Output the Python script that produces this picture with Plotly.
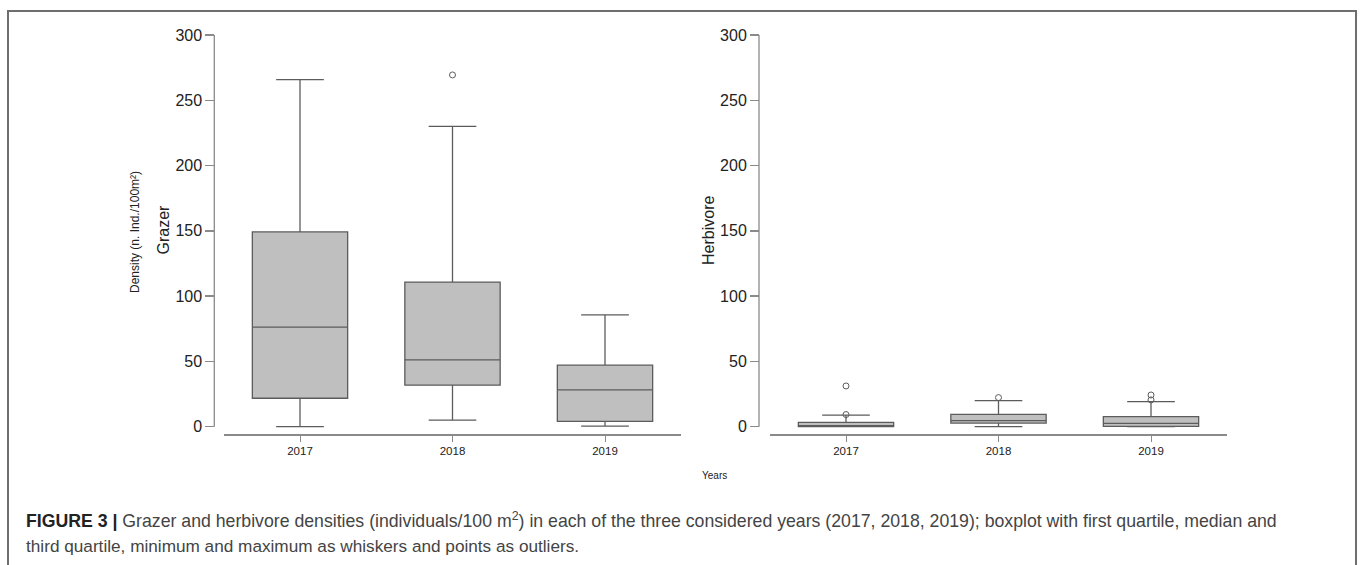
import plotly.graph_objects as go

W, H = 1360, 565

years = ["2017", "2018", "2019"]
pos = [1, 2, 3]

# Grazer boxplot statistics
grazer_low = [0.0, 5.1, 0.5]
grazer_q1 = [21.8, 31.8, 4.1]
grazer_med = [76.3, 51.2, 28.2]
grazer_q3 = [149.2, 110.8, 47.1]
grazer_high = [265.8, 230.0, 85.7]
grazer_out_x = [2]
grazer_out_y = [269.4]

# Herbivore boxplot statistics
herb_low = [0.0, 0.0, 0.0]
herb_q1 = [0.1, 2.8, 0.3]
herb_med = [0.7, 4.6, 2.6]
herb_q3 = [3.3, 9.5, 7.7]
herb_high = [8.8, 20.0, 19.2]
herb_out_x = [1, 1, 2, 3, 3]
herb_out_y = [31.2, 9.3, 22.3, 24.3, 20.5]

yticks = [0, 50, 100, 150, 200, 250, 300]

FONT = "Liberation Sans, Arial, sans-serif"
BOXFILL = "#bfbfbf"
LINE = "#5c5c5c"
AXIS = "#8a8a8a"


def px(x):
    return x / W


def py(y):
    return 1 - y / H


fig = go.Figure()

panels = [
    ("x", "y", grazer_low, grazer_q1, grazer_med, grazer_q3, grazer_high, grazer_out_x, grazer_out_y),
    ("x2", "y2", herb_low, herb_q1, herb_med, herb_q3, herb_high, herb_out_x, herb_out_y),
]
for xa, ya, lo, q1, med, q3, hi, ox, oy in panels:
    fig.add_trace(go.Box(
        x=pos, q1=q1, median=med, q3=q3, lowerfence=lo, upperfence=hi,
        xaxis=xa, yaxis=ya, boxpoints=False, width=0.625, whiskerwidth=0.5,
        fillcolor=BOXFILL, line=dict(color=LINE, width=1.3), showlegend=False,
        hoverinfo="skip",
    ))
    fig.add_trace(go.Scatter(
        x=ox, y=oy, xaxis=xa, yaxis=ya, mode="markers", showlegend=False,
        marker=dict(symbol="circle-open", size=6, color=LINE, line=dict(width=1)),
        hoverinfo="skip",
    ))

ydom = [py(434.3), py(35)]
yrange = [-5.82, 300]

xcommon = dict(
    range=[0.5, 3.5], tickvals=pos, ticktext=years, showline=True, linecolor=AXIS,
    linewidth=1.3, ticks="outside", ticklen=6, tickcolor=AXIS, showgrid=False,
    zeroline=False, tickfont=dict(family=FONT, size=11.5, color="#222"),
    fixedrange=True, automargin=False,
)
ycommon = dict(
    range=yrange, domain=ydom, tickvals=yticks, showline=False, ticks="outside",
    ticklen=9, tickcolor=AXIS, tickwidth=1.3, showgrid=False, zeroline=False,
    tickfont=dict(family=FONT, size=16, color="#222"), anchor="free", automargin=False,
    fixedrange=True,
)

fig.update_layout(
    width=W, height=H, margin=dict(l=0, r=0, t=0, b=0, pad=0), autosize=False,
    paper_bgcolor="white", plot_bgcolor="white",
    xaxis=dict(domain=[px(223.75), px(681.25)], anchor="y", **xcommon),
    xaxis2=dict(domain=[px(769.75), px(1227.25)], anchor="y2", **xcommon),
    yaxis=dict(position=px(214.3), **ycommon),
    yaxis2=dict(position=px(759), **ycommon),
)

shapes = []
# y axis lines spanning 0..300
for xp, yr in [(px(214.3), "y"), (px(759), "y2")]:
    shapes.append(dict(type="line", xref="paper", yref=yr, x0=xp, x1=xp, y0=0, y1=300,
                       line=dict(color=AXIS, width=1.3)))
# frame
shapes.append(dict(type="rect", xref="paper", yref="paper", x0=px(8), x1=px(1356),
                   y0=-0.02, y1=py(11), line=dict(color="#6e6e6e", width=2)))
fig.update_layout(shapes=shapes)

ann = [
    dict(x=px(163.5), y=py(230), text="Grazer", textangle=-90, font=dict(size=16, color="#222")),
    dict(x=px(135), y=py(232), text="Density (n. Ind./100m²)", textangle=-90,
         font=dict(size=12, color="#222")),
    dict(x=px(709), y=py(231), text="Herbivore", textangle=-90, font=dict(size=16, color="#222")),
    dict(x=px(714), y=py(475), text="Years", font=dict(size=10, color="#222")),
]
for a in ann:
    a.update(xref="paper", yref="paper", showarrow=False, xanchor="center", yanchor="middle")
    a["font"]["family"] = FONT

caption = ("<b>FIGURE 3 |</b> <span style='color:#444'>Grazer and herbivore densities (individuals/100 m<sup>2</sup>) "
           "in each of the three considered years (2017, 2018, 2019); boxplot with first quartile, median and</span>")
caption2 = "third quartile, minimum and maximum as whiskers and points as outliers."
ann.append(dict(xref="paper", yref="paper", x=px(24), y=py(520), text=caption, showarrow=False,
                xanchor="left", yanchor="middle", font=dict(family=FONT, size=17.7, color="#222")))
ann.append(dict(xref="paper", yref="paper", x=px(24), y=py(546), text=caption2, showarrow=False,
                xanchor="left", yanchor="middle", font=dict(family=FONT, size=17.2, color="#444")))
fig.update_layout(annotations=ann)

fig.write_html(
    "out.html",
    config={"displayModeBar": False, "staticPlot": True},
    post_script="document.body.style.margin='0';document.body.style.overflow='hidden';",
)
